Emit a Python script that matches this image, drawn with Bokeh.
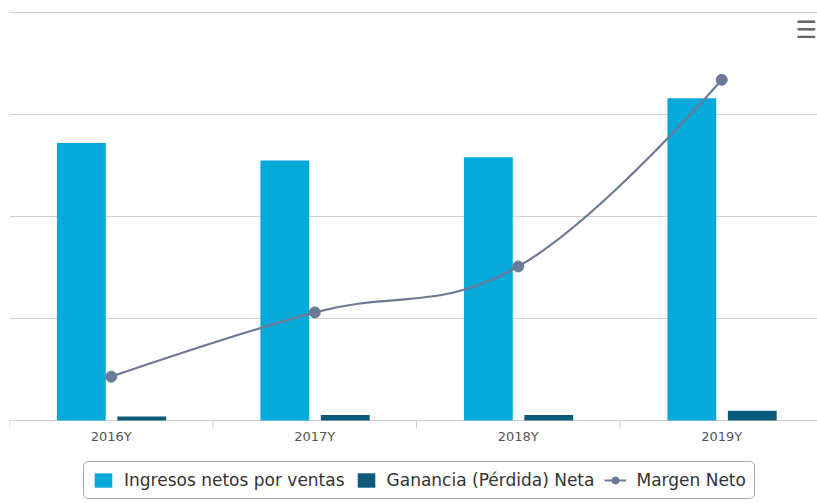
import math
from bokeh.plotting import figure
from bokeh.models import (Range1d, FixedTicker, Legend, LegendItem, Label,
                          ColumnDataSource)
from bokeh.transform import dodge
from bokeh.core.properties import value
from bokeh.embed import file_html
from bokeh.resources import INLINE

# ---- data (y axes are unlabeled, one unit = one gridline step)
categories = ["2016Y", "2017Y", "2018Y", "2019Y"]
ingresos = [2.72, 2.55, 2.58, 3.16]          # Ingresos netos por ventas
ganancia = [0.04, 0.055, 0.055, 0.095]       # Ganancia (Pérdida) Neta
margen = [0.43, 1.06, 1.51, 3.34]            # Margen Neto (secondary axis)
grid_ticks = [0, 1, 2, 3, 4]

CYAN = "#05AADA"
DARK = "#0D5B7B"
LINE = "#6D7A97"
FONT = "DejaVu Sans"

n = len(categories)
centers = [i + 0.5 for i in range(n)]
bounds = [float(i) for i in range(n + 1)]

# layout: frame spans the whole picture height; value 0 sits 83px above the bottom
PX = 102.0                     # pixels per gridline step
BELOW = 83.0                   # pixels below the baseline (axis labels + legend)
FRAME_H = 492
y_lo = -BELOW / PX
y_hi = y_lo + FRAME_H / PX

p = figure(frame_width=808, frame_height=FRAME_H, output_backend="svg",
           toolbar_location=None,
           x_range=Range1d(0, 808 / 203.5), y_range=Range1d(y_lo, y_hi),
           x_axis_location=None, y_axis_location=None,
           min_border_left=9, min_border_right=0, min_border_top=11,
           min_border_bottom=0)
p.extra_y_ranges = {"margen": Range1d(y_lo, y_hi)}
p.outline_line_color = None
p.background_fill_color = "white"
p.border_fill_color = "white"
p.xgrid.visible = False
p.ygrid.ticker = FixedTicker(ticks=grid_ticks)
p.ygrid.grid_line_color = "#d2d2d2"
p.ygrid.grid_line_width = 1

src = ColumnDataSource(dict(x=centers, ingresos=ingresos, ganancia=ganancia,
                            margen=margen, cat=categories,
                            base=[0.0] * n))

r1 = p.vbar(x=dodge("x", -0.147), top="ingresos", width=0.24,
            source=src, fill_color=CYAN, line_color=None)
r2 = p.vbar(x=dodge("x", 0.150), top="ganancia", width=0.24,
            source=src, fill_color=DARK, line_color=None)


# ---- spline (Highcharts-style control points computed from the data points)
def spline_controls(xs, ys, smoothing=1.5):
    m = len(xs)
    lc = [(xs[i], ys[i]) for i in range(m)]
    rc = [(xs[i], ys[i]) for i in range(m)]
    d = smoothing + 1
    for i in range(1, m - 1):
        px, py = xs[i], ys[i]
        lx = (smoothing * px + xs[i - 1]) / d
        ly = (smoothing * py + ys[i - 1]) / d
        rx = (smoothing * px + xs[i + 1]) / d
        ry = (smoothing * py + ys[i + 1]) / d
        corr = 0.0
        if rx != lx:
            corr = ((ry - ly) * (rx - px)) / (rx - lx) + py - ry
        ly += corr
        ry += corr
        lasty, nexty = ys[i - 1], ys[i + 1]
        if ly > lasty and ly > py:
            ly = max(lasty, py)
            ry = 2 * py - ly
        elif ly < lasty and ly < py:
            ly = min(lasty, py)
            ry = 2 * py - ly
        if ry > nexty and ry > py:
            ry = max(nexty, py)
            ly = 2 * py - ry
        elif ry < nexty and ry < py:
            ry = min(nexty, py)
            ly = 2 * py - ry
        lc[i] = (lx, ly)
        rc[i] = (rx, ry)
    return lc, rc


lc, rc = spline_controls(centers, margen)
seg = ColumnDataSource(dict(
    x0=centers[:-1], y0=margen[:-1], x1=centers[1:], y1=margen[1:],
    cx0=[rc[i][0] for i in range(n - 1)], cy0=[rc[i][1] for i in range(n - 1)],
    cx1=[lc[i + 1][0] for i in range(n - 1)], cy1=[lc[i + 1][1] for i in range(n - 1)],
))
p.bezier(x0="x0", y0="y0", x1="x1", y1="y1", cx0="cx0", cy0="cy0",
         cx1="cx1", cy1="cy1", source=seg, line_color=LINE, line_width=2.2,
         y_range_name="margen")
r_pts = p.scatter(x="x", y="margen", source=src, size=11, marker="circle",
                  fill_color=LINE, line_color=LINE, y_range_name="margen")
leg_src = ColumnDataSource(dict(x=[centers[0]], y=[margen[0]]))
r_leg_line = p.line(x="x", y="y", source=leg_src, line_color=LINE,
                    line_width=2, y_range_name="margen")

# ---- category axis: boundary tick marks and centred labels at value 0
tick_src = ColumnDataSource(dict(x=bounds, y=[0.0] * len(bounds)))
p.ray(x="x", y="y", source=tick_src, length=8, length_units="screen",
      angle=-math.pi / 2, line_color="#c8c8c8", line_width=1)
p.text(x="x", y="base", text="cat", source=src, y_offset=16,
       text_align="center", text_baseline="middle",
       text_font=value(FONT), text_font_size="13px", text_color="#555555")

# ---- legend (bottom-left corner given in frame pixels)
legend = Legend(items=[
    LegendItem(label="Ingresos netos por ventas", renderers=[r1]),
    LegendItem(label="Ganancia (Pérdida) Neta", renderers=[r2]),
    LegendItem(label="Margen Neto", renderers=[r_leg_line, r_pts]),
], orientation="horizontal", location=(74, 4),
    border_line_color="#a8a8a8", border_line_width=1, border_line_alpha=1,
    padding=8, spacing=10, margin=0, label_standoff=10,
    glyph_width=22, glyph_height=18,
    label_text_font=FONT, label_text_font_size="17px",
    label_text_color="#333333", background_fill_color="white",
    background_fill_alpha=1)
if "border_radius" in Legend.properties():
    legend.border_radius = 5
p.add_layout(legend, "center")

# ---- export-menu icon
p.add_layout(Label(x=786, y=FRAME_H - 18.5, x_units="screen", y_units="screen",
                   text="☰", text_font=FONT, text_font_size="24px",
                   text_color="#666666", text_font_style="bold",
                   text_align="left", text_baseline="middle"))

open("out.html", "w").write(file_html(p, INLINE))
